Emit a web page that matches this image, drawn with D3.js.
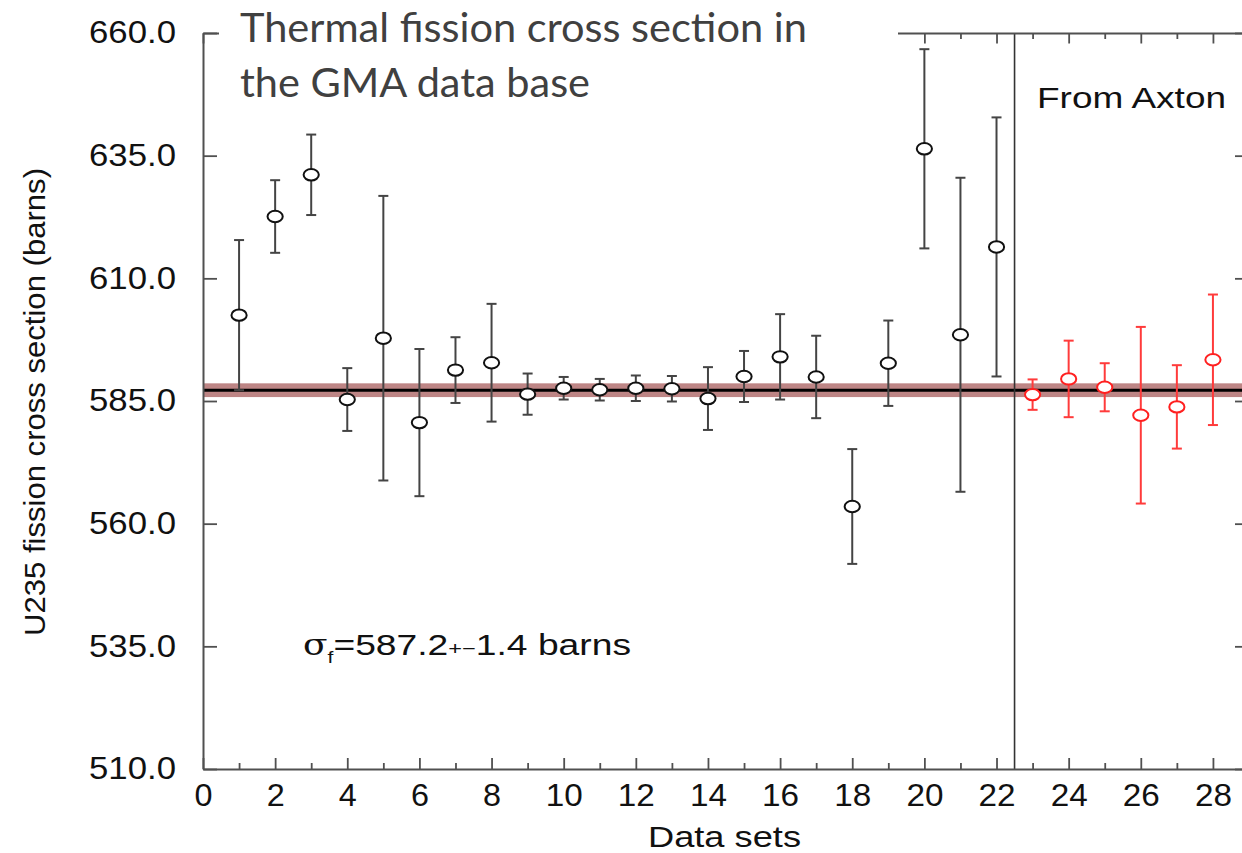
<!DOCTYPE html>
<html>
<head>
<meta charset="utf-8">
<script src="https://cdn.jsdelivr.net/npm/d3@7"></script>
<style>
  body { margin: 0; background: #fff; }
  svg { display: block; }
</style>
</head>
<body>
<div id="chart"></div>
<script>
// GMA data sets (black) and Axton evaluations (red)
const gmaSets = [1, 2, 3, 4, 5, 6, 7, 8, 9, 10, 11, 12, 13, 14, 15, 16, 17, 18, 19, 20, 21, 22];
const gmaValues = [602.5, 622.6, 631.1, 585.3, 597.8, 580.6, 591.3, 592.8, 586.4, 587.6, 587.3,
  587.6, 587.5, 585.5, 590.0, 594.0, 589.9, 563.5, 592.7, 636.4, 598.5, 616.4];
const gmaErrors = [15.3, 7.4, 8.2, 6.4, 29.0, 15.0, 6.7, 12.0, 4.2, 2.3, 2.2,
  2.6, 2.6, 6.4, 5.2, 8.7, 8.4, 11.7, 8.7, 20.3, 32.0, 26.4];

const axtonSets = [23, 24, 25, 26, 27, 28];
const axtonValues = [586.3, 589.5, 587.8, 582.1, 583.8, 593.4];
const axtonErrors = [3.1, 7.8, 4.9, 18.0, 8.5, 13.3];

const meanValue = 587.2;
const meanError = 1.4;
const dividerAt = 22.5;

const xMajorTicks = [0, 2, 4, 6, 8, 10, 12, 14, 16, 18, 20, 22, 24, 26, 28];
const xMinorTicks = [1, 3, 5, 7, 9, 11, 13, 15, 17, 19, 21, 23, 25, 27];
const yTicks = [510, 535, 560, 585, 610, 635, 660];

// layout
const W = 1242, H = 853;
const plot = { left: 203, top: 33, right: 1249, bottom: 769 };

const svg = d3.select('#chart').append('svg')
  .attr('width', W).attr('height', H);

const x = d3.scaleLinear().domain([0, 29]).range([plot.left, plot.right]);
const y = d3.scaleLinear().domain([510, 660]).range([plot.bottom, plot.top]);

const axisColor = '#505050';
const font = '"Liberation Sans", Arial, Helvetica, sans-serif';

// mean band and line
svg.append('rect')
  .attr('x', plot.left)
  .attr('width', plot.right - plot.left)
  .attr('y', y(meanValue + meanError))
  .attr('height', y(meanValue - meanError) - y(meanValue + meanError))
  .attr('fill', '#bd8585');
svg.append('line')
  .attr('x1', plot.left).attr('x2', plot.right)
  .attr('y1', y(meanValue)).attr('y2', y(meanValue))
  .attr('stroke', '#000').attr('stroke-width', 3);

// divider between GMA sets and Axton
svg.append('line')
  .attr('x1', x(dividerAt)).attr('x2', x(dividerAt))
  .attr('y1', plot.top).attr('y2', plot.bottom)
  .attr('stroke', '#333').attr('stroke-width', 1.6);

function drawSeries(sets, values, errors, barColor, markColor) {
  const rows = sets.map((s, i) => ({ s: s, v: values[i], e: errors[i] }));
  const g = svg.append('g');
  const bars = g.selectAll('g.err').data(rows).enter().append('g')
    .attr('class', 'err')
    .attr('stroke', barColor)
    .attr('stroke-width', 2);
  bars.append('line')
    .attr('x1', d => x(d.s)).attr('x2', d => x(d.s))
    .attr('y1', d => y(d.v + d.e)).attr('y2', d => y(d.v - d.e));
  bars.append('line')
    .attr('x1', d => x(d.s) - 5).attr('x2', d => x(d.s) + 5)
    .attr('y1', d => y(d.v + d.e)).attr('y2', d => y(d.v + d.e));
  bars.append('line')
    .attr('x1', d => x(d.s) - 5).attr('x2', d => x(d.s) + 5)
    .attr('y1', d => y(d.v - d.e)).attr('y2', d => y(d.v - d.e));
  g.selectAll('ellipse').data(rows).enter().append('ellipse')
    .attr('cx', d => x(d.s))
    .attr('cy', d => y(d.v))
    .attr('rx', 7.6).attr('ry', 5.7)
    .attr('fill', '#fff')
    .attr('stroke', markColor)
    .attr('stroke-width', 2);
}

drawSeries(gmaSets, gmaValues, gmaErrors, '#444', '#111');
drawSeries(axtonSets, axtonValues, axtonErrors, '#ff3b3b', '#ff2020');

// axes
function styleAxis(g) {
  g.selectAll('path.domain').attr('stroke', axisColor).attr('stroke-width', 2);
  g.selectAll('.tick line').attr('stroke', axisColor).attr('stroke-width', 1.8);
  g.selectAll('.tick text')
    .attr('fill', '#111')
    .style('font-family', font)
    .style('font-size', '31px');
}

svg.append('g')
  .attr('transform', 'translate(0,' + plot.bottom + ')')
  .call(d3.axisBottom(x).tickValues(xMajorTicks).tickSize(-11).tickSizeOuter(0).tickPadding(15))
  .call(styleAxis)
  .call(g => g.selectAll('.tick text')
    .attr('textLength', d => (String(d).length > 1 ? 37 : 18))
    .attr('lengthAdjust', 'spacingAndGlyphs'));

svg.append('g')
  .attr('transform', 'translate(0,' + plot.bottom + ')')
  .call(d3.axisBottom(x).tickValues(xMinorTicks).tickSize(-6).tickFormat(''))
  .call(g => g.select('.domain').remove())
  .call(styleAxis);

svg.append('g')
  .attr('transform', 'translate(0,' + plot.top + ')')
  .call(d3.axisTop(x).tickValues(xMajorTicks).tickSize(-10.5).tickSizeOuter(0).tickFormat(''))
  .call(styleAxis);
svg.append('g')
  .attr('transform', 'translate(0,' + plot.top + ')')
  .call(d3.axisTop(x).tickValues(xMinorTicks).tickSize(-6).tickFormat(''))
  .call(g => g.select('.domain').remove())
  .call(styleAxis);

svg.append('g')
  .attr('transform', 'translate(' + plot.left + ',0)')
  .call(d3.axisLeft(y).tickValues(yTicks).tickSize(-14).tickSizeOuter(0)
    .tickPadding(27).tickFormat(d3.format('.1f')))
  .call(styleAxis)
  .call(g => g.selectAll('.tick text')
    .attr('textLength', 87).attr('lengthAdjust', 'spacingAndGlyphs'));

svg.append('g')
  .attr('transform', 'translate(' + plot.right + ',0)')
  .call(d3.axisRight(y).tickValues(yTicks).tickSize(-14).tickSizeOuter(0).tickFormat(''))
  .call(styleAxis);

// axis titles
svg.append('text')
  .attr('x', 648).attr('y', 847)
  .attr('textLength', 153).attr('lengthAdjust', 'spacingAndGlyphs')
  .style('font-family', font).style('font-size', '29px')
  .attr('fill', '#111')
  .text('Data sets');

svg.append('text')
  .attr('transform', 'translate(45,' + 402 + ') rotate(-90)')
  .attr('text-anchor', 'middle')
  .attr('textLength', 468).attr('lengthAdjust', 'spacingAndGlyphs')
  .style('font-family', font).style('font-size', '30px')
  .attr('fill', '#111')
  .text('U235 fission cross section (barns)');

// annotations
svg.append('text')
  .attr('x', 1037).attr('y', 108)
  .attr('textLength', 189).attr('lengthAdjust', 'spacingAndGlyphs')
  .style('font-family', font).style('font-size', '30px')
  .attr('fill', '#111')
  .text('From Axton');

const sigma = svg.append('text')
  .attr('x', 303).attr('y', 655)
  .attr('textLength', 328).attr('lengthAdjust', 'spacingAndGlyphs')
  .style('font-family', font).style('font-size', '30px')
  .attr('fill', '#111');
sigma.append('tspan').text('σ').style('font-family', '"DejaVu Serif", serif').style('font-size', '29px');
sigma.append('tspan').text('f').attr('dy', 8).style('font-size', '17px');
sigma.append('tspan').text('=587.2').attr('dy', -8);
sigma.append('tspan').text('+−').style('font-size', '19px');
sigma.append('tspan').text('1.4 barns');

// slide title sitting over the plot
svg.append('rect')
  .attr('x', 219).attr('y', 0)
  .attr('width', 898 - 219).attr('height', 112)
  .attr('fill', '#fff');

const title = svg.append('g')
  .style('font-family', 'Lato, "Open Sans", sans-serif')
  .style('font-size', '40px')
  .attr('fill', '#404040');
title.append('text')
  .attr('x', 240).attr('y', 42)
  .attr('textLength', 567).attr('lengthAdjust', 'spacingAndGlyphs')
  .text('Thermal fission cross section in');
title.append('text')
  .attr('x', 240).attr('y', 97)
  .attr('textLength', 350).attr('lengthAdjust', 'spacingAndGlyphs')
  .text('the GMA data base');
</script>
</body>
</html>
